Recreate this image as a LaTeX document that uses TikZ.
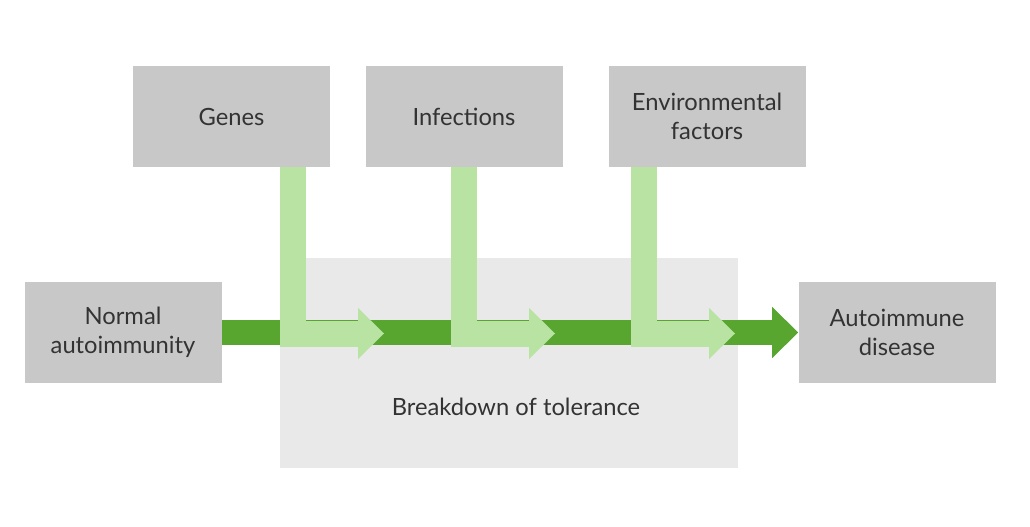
\documentclass[tikz,border=0pt]{standalone}
\usepackage{fontspec}
\setmainfont{Lato}
\usepackage{xcolor}
\usepackage{tikz}
\usetikzlibrary{arrows.meta}
\definecolor{boxgray}{HTML}{C8C8C8}
\definecolor{zonegray}{HTML}{E9E9E9}
\definecolor{darkgreen}{HTML}{58A630}
\definecolor{lightgreen}{HTML}{B8E3A2}
\definecolor{txtgray}{HTML}{333333}

\begin{document}
\begin{tikzpicture}[
x=0.75pt,
y=-0.75pt,
every node/.style={font=\fontsize{17.8}{22}\selectfont,text=txtgray},
factor/.style={rectangle,fill=boxgray,align=center,inner sep=0pt,minimum width=147.75pt,minimum height=75.75pt},
zone/.style={rectangle,fill=zonegray,inner sep=0pt,minimum width=343.5pt,minimum height=157.5pt},
mainarr/.style={draw=darkgreen,line width=18.75pt,-{Triangle[length=19.5pt,width=38.25pt,line width=0pt]}},
feedarr/.style={draw=lightgreen,line width=19.5pt,line join=miter,-{Triangle[length=19.5pt,width=38.25pt,line width=0pt]}}
]
\useasboundingbox (0,0) rectangle (1030,527);

\node[zone] (tolbox) at (509,363) {};
\node (toltext) at (516,407) {Breakdown of tolerance};

\node[factor] (genes) at (231.5,116.5) {Genes};
\node[factor] (infect) at (464,116.5) {Infections};
\node[factor] (environ) at (707,116.5) {Environmental\\factors};
\node[factor] (normal) at (123,332.5) {Normal\\autoimmunity};
\node[factor] (disease) at (897,332.5) {Autoimmune\\disease};

\coordinate (bendg) at (293,333.5);
\coordinate (bendi) at (464,333.5);
\coordinate (bende) at (644,333.5);
\coordinate (tipg) at (384,333.5);
\coordinate (tipi) at (555,333.5);
\coordinate (tipe) at (735,333.5);

\draw[mainarr] (normal.east) -- (disease.west);

\draw[feedarr] (genes.south -| bendg) -- (bendg) -- (tipg);
\draw[feedarr] (infect.south -| bendi) -- (bendi) -- (tipi);
\draw[feedarr] (environ.south -| bende) -- (bende) -- (tipe);
\end{tikzpicture}
\end{document}
